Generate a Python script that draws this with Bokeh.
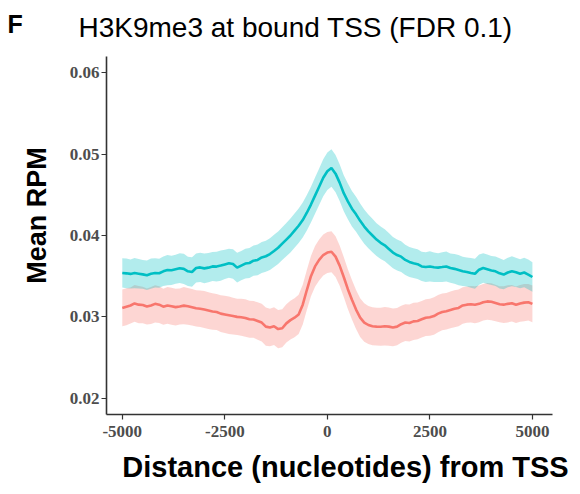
import numpy as np
from bokeh.plotting import figure
from bokeh.models import Range1d, FixedTicker, Label, ColumnDataSource
from bokeh.embed import file_html
from bokeh.resources import INLINE

# distance from TSS (nucleotides)
distance = list(range(-5000, 5001, 100))

# mean RPM, cyan series (upper curve)
rpm_cyan = [
    .03540, .03535, .03528, .03538, .03530, .03522, .03512, .03530, .03540, .03536,
    .03560, .03575, .03572, .03585, .03598, .03590, .03560, .03552, .03600, .03608,
    .03596, .03605, .03620, .03618, .03630, .03645, .03660, .03650, .03605, .03630,
    .03655, .03662, .03690, .03700, .03730, .03745, .03772, .03810, .03850, .03900,
    .03950, .04000, .04060, .04120, .04190, .04280, .04380, .04490, .04600, .04710,
    .04790, .04830, .04760, .04650, .04520, .04420, .04330, .04260, .04180, .04110,
    .04050, .04000, .03950, .03910, .03880, .03835, .03790, .03760, .03740, .03700,
    .03675, .03660, .03648, .03620, .03612, .03620, .03610, .03605, .03612, .03620,
    .03600, .03590, .03575, .03560, .03552, .03540, .03530, .03580, .03600, .03585,
    .03570, .03560, .03535, .03520, .03545, .03560, .03548, .03530, .03545, .03520,
    .03490,
]

# mean RPM, red series (lower curve)
rpm_red = [
    .03110, .03125, .03140, .03165, .03150, .03145, .03128, .03140, .03160, .03150,
    .03125, .03140, .03130, .03120, .03128, .03138, .03130, .03118, .03105, .03100,
    .03090, .03078, .03065, .03060, .03040, .03030, .03020, .03010, .03000, .02995,
    .02985, .02970, .02968, .02950, .02930, .02880, .02870, .02885, .02850, .02860,
    .02920, .02960, .02990, .03030, .03150, .03330, .03500, .03620, .03700, .03760,
    .03790, .03800, .03740, .03630, .03490, .03340, .03210, .03090, .02990, .02930,
    .02900, .02885, .02880, .02878, .02885, .02880, .02870, .02880, .02910, .02930,
    .02925, .02945, .02950, .02970, .02990, .02995, .03010, .03040, .03060, .03070,
    .03085, .03100, .03110, .03140, .03150, .03155, .03148, .03160, .03180, .03190,
    .03185, .03170, .03155, .03150, .03160, .03168, .03150, .03165, .03175, .03180,
    .03160,
]

# ribbon half-widths (standard error band)
se_cyan = [
    .00180, .00182, .00178, .00185, .00180, .00176, .00182, .00186, .00180, .00178,
    .00182, .00185, .00180, .00178, .00183, .00186, .00180, .00182, .00178, .00180,
    .00184, .00180, .00178, .00182, .00185, .00180, .00178, .00182, .00184, .00180,
    .00182, .00185, .00186, .00188, .00190, .00192, .00195, .00198, .00200, .00202,
    .00205, .00208, .00210, .00212, .00215, .00218, .00220, .00222, .00225, .00228,
    .00230, .00230, .00228, .00225, .00222, .00220, .00218, .00215, .00212, .00210,
    .00208, .00205, .00202, .00200, .00198, .00195, .00192, .00190, .00188, .00186,
    .00185, .00183, .00182, .00180, .00182, .00185, .00180, .00178, .00182, .00184,
    .00180, .00182, .00185, .00180, .00178, .00182, .00184, .00186, .00182, .00180,
    .00178, .00182, .00185, .00180, .00182, .00184, .00180, .00178, .00182, .00185,
    .00182,
]
se_red = [
    .00225, .00228, .00222, .00226, .00230, .00225, .00222, .00228, .00230, .00225,
    .00222, .00226, .00228, .00225, .00222, .00228, .00226, .00224, .00222, .00225,
    .00228, .00226, .00224, .00222, .00225, .00228, .00230, .00226, .00224, .00228,
    .00230, .00228, .00226, .00230, .00232, .00234, .00230, .00232, .00235, .00234,
    .00236, .00238, .00240, .00242, .00244, .00246, .00248, .00250, .00252, .00252,
    .00252, .00252, .00250, .00248, .00246, .00244, .00242, .00240, .00238, .00236,
    .00235, .00234, .00232, .00234, .00236, .00234, .00232, .00230, .00228, .00226,
    .00228, .00230, .00226, .00224, .00226, .00228, .00230, .00228, .00226, .00224,
    .00226, .00228, .00226, .00224, .00222, .00225, .00228, .00226, .00224, .00226,
    .00228, .00225, .00222, .00226, .00228, .00225, .00224, .00226, .00228, .00225,
    .00226,
]

x_ticks = [-5000, -2500, 0, 2500, 5000]
y_ticks = [0.02, 0.03, 0.04, 0.05, 0.06]
x_bounds = (-5385, 5490)
y_bounds = (0.018, 0.062)

CYAN = "#00BFC4"
RED = "#F8766D"

W, H = 580, 494
# pixel position of the plotting panel inside the canvas
PL, PR, PT, PB = 106, 552, 56, 414
sx = (x_bounds[1] - x_bounds[0]) / (PR - PL)
sy = (y_bounds[1] - y_bounds[0]) / (PB - PT)
x_start = x_bounds[0] - PL * sx
x_end = x_bounds[1] + (W - PR) * sx
y_end = y_bounds[1] + PT * sy
y_start = y_bounds[0] - (H - PB) * sy

x = np.array(distance)
c = np.array(rpm_cyan)
r = np.array(rpm_red)
sc = np.array(se_cyan)
sr = np.array(se_red)

src = ColumnDataSource(dict(x=x, c=c, c_lo=c - sc, c_hi=c + sc,
                            r=r, r_lo=r - sr, r_hi=r + sr))

p = figure(width=W, height=H, output_backend="svg", toolbar_location=None,
           x_range=Range1d(x_start, x_end), y_range=Range1d(y_start, y_end),
           min_border=0, min_border_left=0, min_border_right=0,
           min_border_top=0, min_border_bottom=0)

p.varea(x="x", y1="r_lo", y2="r_hi", source=src, fill_color=RED, fill_alpha=0.3)
p.varea(x="x", y1="c_lo", y2="c_hi", source=src, fill_color=CYAN, fill_alpha=0.3)
p.line(x="x", y="r", source=src, line_color=RED, line_width=2.6)
p.line(x="x", y="c", source=src, line_color=CYAN, line_width=2.6)

p.xgrid.visible = False
p.ygrid.visible = False
p.outline_line_color = None
p.background_fill_color = "white"
p.border_fill_color = "white"

p.xaxis.ticker = FixedTicker(ticks=x_ticks)
p.yaxis.ticker = FixedTicker(ticks=y_ticks)
p.xaxis.major_label_overrides = {t: str(t) for t in x_ticks}
p.yaxis.major_label_overrides = {t: f"{t:.2f}" for t in y_ticks}
p.xaxis.fixed_location = y_bounds[0]
p.yaxis.fixed_location = x_bounds[0]
p.xaxis.bounds = x_bounds
p.yaxis.bounds = y_bounds

for ax in (p.xaxis, p.yaxis):
    ax.axis_line_color = "#333333"
    ax.axis_line_width = 1.6
    ax.major_tick_line_color = "#333333"
    ax.major_tick_line_width = 1.2
    ax.major_tick_out = 5
    ax.major_tick_in = 0
    ax.minor_tick_line_color = None
    ax.major_label_text_font = "Liberation Serif"
    ax.major_label_text_font_style = "bold"
    ax.major_label_text_font_size = "17px"
    ax.major_label_text_color = "#4D4D4D"

p.xaxis.major_label_standoff = 6
p.yaxis.major_label_standoff = 2

def canvas_label(text, px, py, size, style="bold", angle=0.0, align="left"):
    # px, py: canvas pixels from the top-left; Label screen units are from bottom-left
    return Label(x=px, y=H - py, x_units="screen", y_units="screen", text=text,
                 text_font="Liberation Sans", text_font_style=style,
                 text_font_size=size, text_color="#000000", angle=angle,
                 text_align=align, text_baseline="alphabetic")

p.add_layout(canvas_label("F", 7, 23, "25px"))
p.add_layout(canvas_label("H3K9me3 at bound TSS (FDR 0.1)", 78, 27, "28px", style="normal"))
p.add_layout(canvas_label("Mean RPM", 36, 215, "27px", angle=np.pi / 2, align="center"))
p.add_layout(canvas_label("Distance (nucleotides) from TSS", 345, 466, "29px", align="center"))

open("out.html", "w").write(file_html(p, INLINE))
